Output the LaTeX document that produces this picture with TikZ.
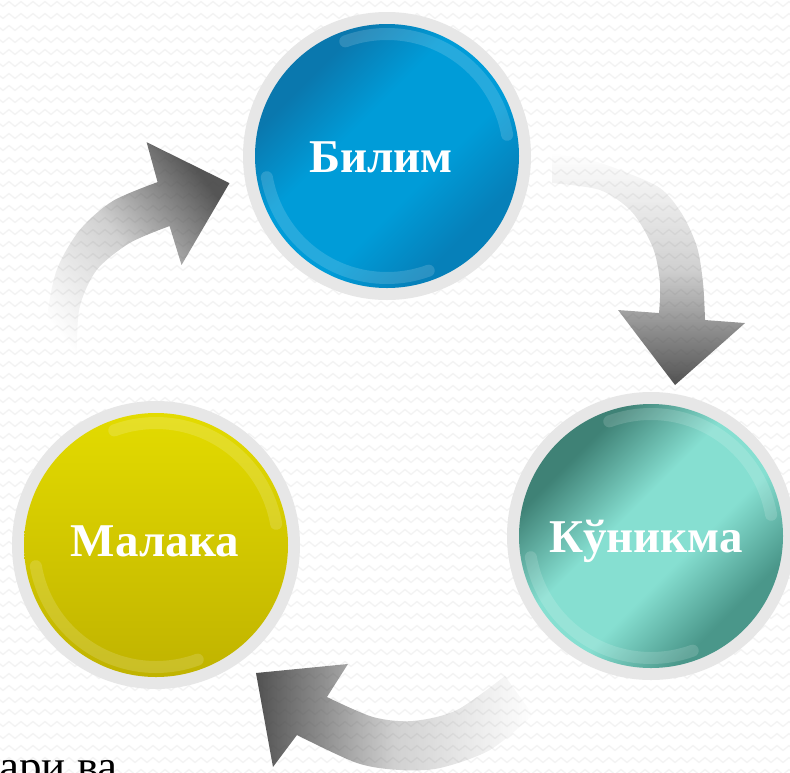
\documentclass[tikz,border=0pt]{standalone}
\usepackage{fontspec}
\setmainfont{Liberation Serif}
\usetikzlibrary{fadings,decorations.pathmorphing,calc}
\definecolor{ringgray}{HTML}{E7E7E7}
\definecolor{zig}{HTML}{F3F3F3}
\definecolor{arrowgray}{HTML}{3E3E3E}
\definecolor{bluedark}{HTML}{0A78AE}
\definecolor{bluemid}{HTML}{009CD8}
\definecolor{bluedark2}{HTML}{0680B9}
\definecolor{tealdark}{HTML}{3F8276}
\definecolor{tealmid}{HTML}{86DFD1}
\definecolor{tealdark2}{HTML}{4A978A}
\definecolor{yeltop}{HTML}{E3DB00}
\definecolor{yelbot}{HTML}{C0B300}
\pgfdeclareverticalshading{bilimshade}{100bp}{color(0bp)=(bluedark2); color(29bp)=(bluedark2); color(42bp)=(bluemid); color(58bp)=(bluemid); color(71bp)=(bluedark); color(100bp)=(bluedark)}
\pgfdeclareverticalshading{kunikmashade}{100bp}{color(0bp)=(tealdark2); color(29bp)=(tealdark2); color(43bp)=(tealmid); color(56bp)=(tealmid); color(71bp)=(tealdark); color(100bp)=(tealdark)}
\tikzfading[name=fadetop, top color=transparent!12, bottom color=transparent!100, middle color=transparent!76]
\tikzfading[name=fadebottom, top color=transparent!100, bottom color=transparent!10, middle color=transparent!76]
\tikzfading[name=fadeleft, left color=transparent!10, right color=transparent!100, middle color=transparent!76]
\begin{document}
\begin{tikzpicture}[x=1pt,y=-1pt,
  bgzig/.style={draw=zig, line width=1.3pt, decorate,
    decoration={zigzag, segment length=12pt, amplitude=2.5pt}},
  ring/.style={circle, fill=ringgray, minimum size=288pt, inner sep=0pt},
  ball/.style={circle, minimum size=264pt, inner sep=0pt},
  bilimball/.style={ball, shading=bilimshade, shading angle=45},
  kunikmaball/.style={ball, shading=kunikmashade, shading angle=45},
  malakaball/.style={ball, top color=yeltop, bottom color=yelbot},
  gloss/.style={draw=white, opacity=0.15, line width=12pt, line cap=round},
  word/.style={text=white, font=\bfseries\fontsize{47}{56}\selectfont, anchor=base, inner sep=0pt},
  arrowshape/.style={fill=arrowgray}
]
\useasboundingbox (0,0) rectangle (790,772);
\clip (0,0) rectangle (790,772);
\fill[white] (0,0) rectangle (790,772);
\foreach \yy in {4,16,...,772} { \draw[bgzig] (-6,\yy) -- (800,\yy); }

% arrow 1 (left, towards Bilim)
\fill[arrowshape, path fading=fadetop, fading angle=-45]
  (43,382) -- plot[smooth] coordinates {(43,382) (47,320) (57,270) (80,230) (113,201) (158,182)}
  -- (147,142) -- (230,183) -- (182,265) -- (170,226)
  -- plot[smooth] coordinates {(170,226) (130,243) (97,270) (80,307) (77,353) (77,382)} -- cycle;

% arrow 2 (top right, towards Kunikma)
\fill[arrowshape, path fading=fadebottom]
  (552,153) -- plot[smooth] coordinates {(552,153) (590,160) (620,170) (660,188) (682,214) (697,247) (703,283) (705,320)}
  -- (745,323) -- (675,385) -- (618,310) -- (659,313)
  -- plot[smooth] coordinates {(659,313) (660,283) (653,248) (632,212) (600,190) (552,183)} -- cycle;

% arrow 3 (bottom, towards Malaka)
\fill[arrowshape, path fading=fadeleft]
  (505,676) -- plot[smooth] coordinates {(505,676) (457,710) (413,721) (373,717) (327,697)}
  -- (348,664) -- (256,673) -- (273,767) -- (297,735)
  -- plot[smooth] coordinates {(297,735) (357,763) (400,770) (440,768) (490,750) (533,715)} -- cycle;

% circles
\node[ring] (bring) at (387,156) {};
\node[bilimball] (bball) at (387,156) {};
\node[ring] (kring) at (651,536) {};
\node[kunikmaball] (kball) at (651,536) {};
\node[ring] (mring) at (156,545) {};
\node[malakaball] (mball) at (156,545) {};

% gloss rims
\foreach \c in {bball,kball,mball} {
  \draw[gloss] ($(\c.center)+(-110:122)$) arc[start angle=-110, end angle=-10, radius=122];
  \draw[gloss] ($(\c.center)+(-190:122)$) arc[start angle=-190, end angle=-290, radius=122];
}

% labels
\node[word] (bilim) at (381,172) {Билим};
\node[word] (kunikma) at (646,552) {Кўникма};
\node[word] (malaka) at (155,556) {Малака};

\node[anchor=base west, inner sep=0pt, text=black, font=\fontsize{45}{54}\selectfont] (cut) at (-1,781) {ари ва};
\end{tikzpicture}
\end{document}
